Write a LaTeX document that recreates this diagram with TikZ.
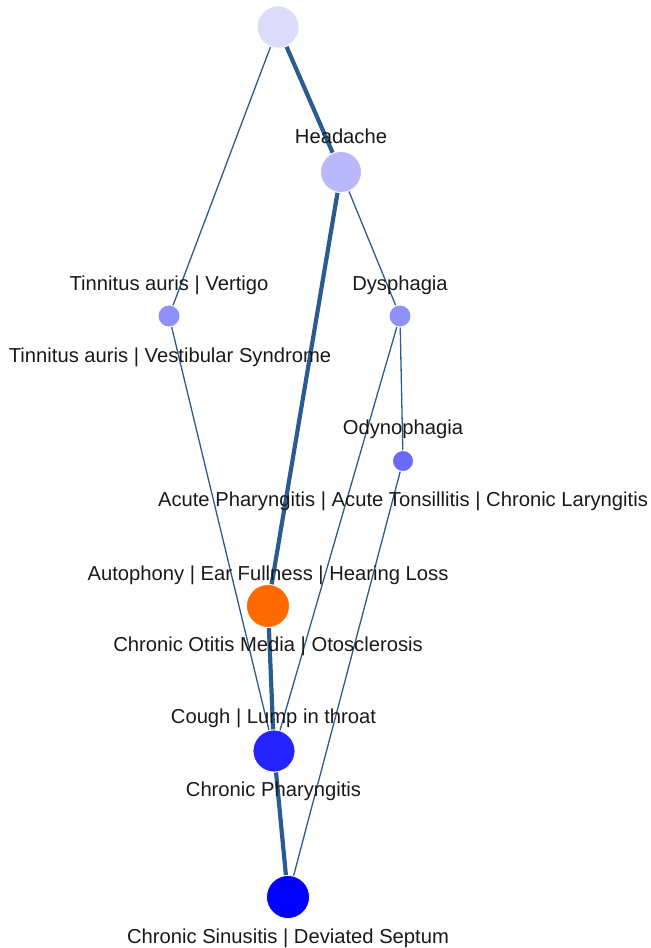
\documentclass[tikz,border=0pt]{standalone}
\usepackage{fontspec}
\setmainfont{Liberation Sans}
\definecolor{edgec}{HTML}{2A5D8F}
\definecolor{c0}{HTML}{DCDCFA}
\definecolor{c1}{HTML}{B8B8FA}
\definecolor{c2}{HTML}{9090FA}
\definecolor{c3}{HTML}{6A6AFA}
\definecolor{c4}{HTML}{FF6A00}
\definecolor{c5}{HTML}{2424FF}
\definecolor{c6}{HTML}{0000FF}
\begin{document}
\begin{tikzpicture}[x=1bp,y=-1bp,
  dot/.style={circle,inner sep=0pt,draw=white,line width=0.8bp},
  lbl/.style={anchor=base,inner sep=0pt,font=\fontsize{20.2bp}{24bp}\selectfont,text=black!90},
  thin/.style={draw=edgec,line width=1.3bp},
  thick/.style={draw=edgec,line width=4.2bp}]
\useasboundingbox (0,0) rectangle (651,948);
% node positions (named, invisible anchors for edges)
\node[dot,minimum size=42bp] (top) at (278,27) {};
\node[dot,minimum size=41bp] (head) at (341,172) {};
\node[dot,minimum size=22bp] (tin) at (169,316) {};
\node[dot,minimum size=22bp] (dys) at (400,316) {};
\node[dot,minimum size=21bp] (ody) at (403,461) {};
\node[dot,minimum size=43bp] (oto) at (268,606) {};
\node[dot,minimum size=42bp] (cp) at (274,751) {};
\node[dot,minimum size=43bp] (cs) at (288,897) {};
% edges
\draw[thick] (top) -- (head);
\draw[thin] (top) -- (tin);
\draw[thin] (head) -- (dys);
\draw[thick] (head) -- (oto);
\draw[thin] (tin) -- (cp);
\draw[thin] (dys) -- (cp);
\draw[thin] (dys) -- (ody);
\draw[thin] (ody) -- (cs);
\draw[thick] (oto) -- (cp);
\draw[thick] (cp) -- (cs);
% filled nodes on top of edges
\node[dot,fill=c0,minimum size=42bp] at (top) {};
\node[dot,fill=c1,minimum size=41bp] at (head) {};
\node[dot,fill=c2,minimum size=22bp] at (tin) {};
\node[dot,fill=c2,minimum size=22bp] at (dys) {};
\node[dot,fill=c3,minimum size=21bp] at (ody) {};
\node[dot,fill=c4,minimum size=43bp] at (oto) {};
\node[dot,fill=c5,minimum size=42bp] at (cp) {};
\node[dot,fill=c6,minimum size=43bp] at (cs) {};
% labels
\node[lbl] (l1) at (341,143) {Headache};
\node[lbl] (l2) at (169,290) {Tinnitus auris | Vertigo};
\node[lbl] (l3) at (400,290) {Dysphagia};
\node[lbl] (l4) at (170,362) {Tinnitus auris | Vestibular Syndrome};
\node[lbl] (l5) at (403,434) {Odynophagia};
\node[lbl] (l6) at (403,506) {Acute Pharyngitis | Acute Tonsillitis | Chronic Laryngitis};
\node[lbl] (l7) at (268,580) {Autophony | Ear Fullness | Hearing Loss};
\node[lbl] (l8) at (268,651) {Chronic Otitis Media | Otosclerosis};
\node[lbl] (l9) at (273.5,723) {Cough | Lump in throat};
\node[lbl] (l10) at (273.5,796) {Chronic Pharyngitis};
\node[lbl] (l11) at (288,943) {Chronic Sinusitis | Deviated Septum};
\end{tikzpicture}
\end{document}
